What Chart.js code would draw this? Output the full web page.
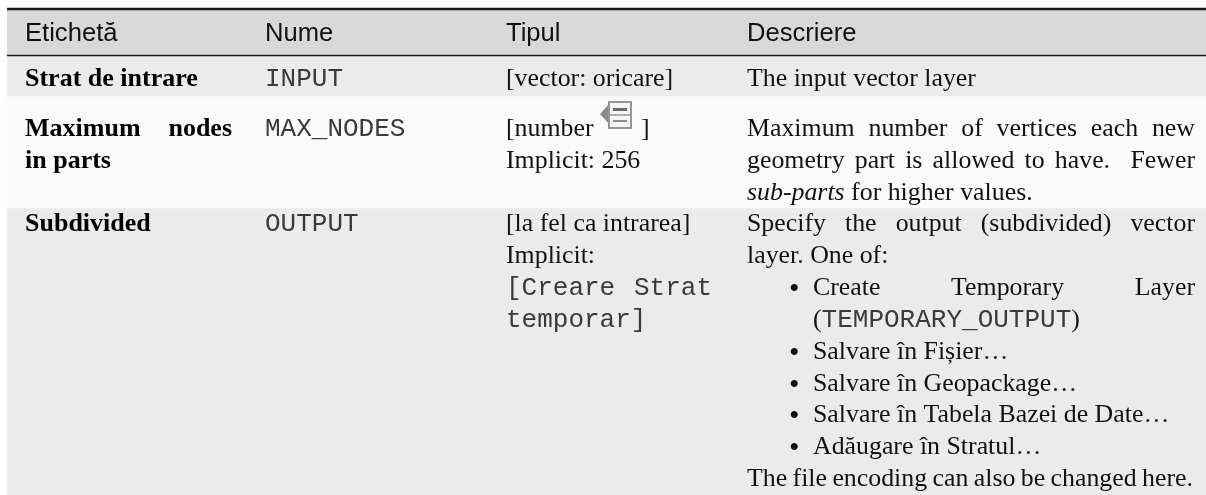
<!DOCTYPE html>
<html>
<head>
<meta charset="utf-8">
<style>
  html, body { margin: 0; padding: 0; background: #fff; }
  canvas { display: block; filter: blur(0.35px); }
</style>
<script src="https://cdn.jsdelivr.net/npm/chart.js@4"></script>
</head>
<body>
<canvas id="myChart" width="1206" height="495"></canvas>
<script>
// bands of the table, top to bottom, heights
var bandNames = ["rule top", "Antet", "rule head", "Strat de intrare", "Maximum nodes in parts", "Subdivided"];
var bandHeights = [2, 44.5, 1.5, 40, 112, 287];
var bandColors = ["#1a1a1a", "#d9d9d9", "#111111", "#ebebeb", "#fafafa", "#ebebeb"];

var headers = ["Etichetă", "Nume", "Tipul", "Descriere"];

// cell text, one entry per printed line. *x* italic, `x` mono, ** bold, > justified
var labelCol = [["**Strat de intrare"], [">**Maximum nodes", "**in parts"], ["**Subdivided"]];
var nameCol = [["`INPUT"], ["`MAX_NODES"], ["`OUTPUT"]];
var typeCol = [
  ["[vector: oricare]"],
  ["[number", "Implicit: 256"],
  ["[la fel ca intrarea]", "Implicit:", ">`[Creare Strat", "`temporar]"]
];
var descCol = [
  ["The input vector layer"],
  [">Maximum number of vertices each new", ">geometry part is allowed to have.  Fewer", "*sub-parts* for higher values."],
  [">Specify the output (subdivided) vector", "layer. One of:"]
];
var bulletLines = [
  [">Create Temporary Layer", "(`TEMPORARY_OUTPUT`)"],
  ["Salvare în Fișier…"],
  ["Salvare în Geopackage…"],
  ["Salvare în Tabela Bazei de Date…"],
  ["Adăugare în Stratul…"]
];
var descTail = ">The file encoding can also be changed here.";

var SERIF = '"Liberation Serif"', SANS = '"Liberation Sans"', MONO = '"Liberation Mono"';
var SIZE = 25.85, BOLD_SIZE = 26, HEAD_SIZE = 25.6, MONO_SIZE = 26, LINE = 31.9;
var TEXT = "#111111", MONO_TEXT = "#3a3a3a";
var colX = [25, 265, 506, 747];
var colRight = [232, 495, 712, 1195];
var rowBase = [78, 128, 223]; // first baseline of each row, in y axis units

function parseRuns(str) {
  var runs = [], parts = str.split(/(\*[^*]+\*|`[^`]+`)/);
  parts.forEach(function (p) {
    if (!p) return;
    if (p[0] == "*") runs.push({ t: p.slice(1, -1), f: "italic " + SIZE + "px " + SERIF, c: TEXT });
    else if (p[0] == "`") runs.push({ t: p.slice(1, -1), f: MONO_SIZE + "px " + MONO, c: MONO_TEXT });
    else runs.push({ t: p, f: SIZE + "px " + SERIF, c: TEXT });
  });
  return runs;
}

function drawLine(ctx, line, x, y, right) {
  var justify = false, bold = false, mono = false;
  if (line[0] == ">") { justify = true; line = line.slice(1); }
  if (line.slice(0, 2) == "**") { bold = true; line = line.slice(2); }
  if (line[0] == "`" && line.indexOf("`", 1) < 0) { mono = true; line = line.slice(1); }
  if (bold || mono) {
    ctx.font = bold ? "bold " + BOLD_SIZE + "px " + SERIF : MONO_SIZE + "px " + MONO;
    ctx.fillStyle = mono ? MONO_TEXT : "#000000";
    if (justify) return drawJustified(ctx, line, x, y, right);
    ctx.fillText(line, x, y);
    return;
  }
  if (justify) {
    ctx.font = SIZE + "px " + SERIF;
    ctx.fillStyle = TEXT;
    return drawJustified(ctx, line, x, y, right);
  }
  parseRuns(line).forEach(function (r) {
    ctx.font = r.f;
    ctx.fillStyle = r.c;
    ctx.fillText(r.t, x, y);
    x += ctx.measureText(r.t).width;
  });
}

function drawJustified(ctx, line, x, y, right) {
  // a double space keeps its wider sentence gap
  var words = line.split(" "), total = 0;
  words.forEach(function (w) { total += ctx.measureText(w).width; });
  var gap = (right - x - total) / (words.length - 1);
  words.forEach(function (w) {
    if (w) ctx.fillText(w, x, y);
    x += ctx.measureText(w).width + gap;
  });
}

// little "vector layer" icon after [number
function drawIcon(ctx, x, y) {
  ctx.fillStyle = "#8c8c8c";
  ctx.beginPath();
  ctx.moveTo(x, y + 13); ctx.lineTo(x + 9, y + 3); ctx.lineTo(x + 9, y + 23); ctx.closePath();
  ctx.fill();
  ctx.fillStyle = "#f6f6f6"; ctx.strokeStyle = "#969696"; ctx.lineWidth = 2;
  ctx.fillRect(x + 9, y + 1, 22, 26);
  ctx.strokeRect(x + 9, y + 1, 22, 26);
  ctx.fillStyle = "#6a6a6a"; ctx.fillRect(x + 13, y + 7, 14, 3);
  ctx.fillStyle = "#8a8a8a"; ctx.fillRect(x + 13, y + 19, 14, 2);
  ctx.strokeStyle = "#969696"; ctx.lineWidth = 1.5;
  ctx.beginPath(); ctx.moveTo(x + 9, y + 14); ctx.lineTo(x + 31, y + 14); ctx.stroke();
}

var tableText = {
  id: "tableText",
  afterDatasetsDraw: function (chart) {
    var ctx = chart.ctx, ys = chart.scales.y;
    ctx.save();
    ctx.textBaseline = "alphabetic";
    ctx.textAlign = "left";
    ctx.fillStyle = TEXT;

    ctx.font = HEAD_SIZE + "px " + SANS;
    headers.forEach(function (h, i) {
      ctx.fillText(h, colX[i], ys.getPixelForValue(33));
    });

    [labelCol, nameCol, typeCol, descCol].forEach(function (col, c) {
      col.forEach(function (lines, r) {
        lines.forEach(function (line, k) {
          drawLine(ctx, line, colX[c], ys.getPixelForValue(rowBase[r] + k * LINE), colRight[c]);
        });
      });
    });

    // closing bracket and icon on the [number line
    var numY = ys.getPixelForValue(rowBase[1]);
    ctx.fillStyle = TEXT;
    ctx.font = SIZE + "px " + SERIF;
    ctx.fillText("]", 641, numY);
    drawIcon(ctx, 600, 101);

    // bullet list of the last row
    var k = 2;
    bulletLines.forEach(function (item) {
      item.forEach(function (line, j) {
        var y = ys.getPixelForValue(rowBase[2] + k * LINE);
        if (j == 0) {
          ctx.fillStyle = TEXT;
          ctx.font = "30px " + SERIF;
          ctx.fillText("•", 789, y + 3);
        }
        drawLine(ctx, line, 813, y, 1195);
        k++;
      });
    });
    drawLine(ctx, descTail, colX[3], ys.getPixelForValue(rowBase[2] + k * LINE), 1193);
    ctx.restore();
  }
};

new Chart("myChart", {
  type: "bar",
  data: {
    labels: ["tabel"],
    datasets: bandNames.map(function (name, i) {
      return {
        label: name,
        data: [bandHeights[i]],
        backgroundColor: bandColors[i],
        borderWidth: 0,
        categoryPercentage: 1,
        barPercentage: 1
      };
    })
  },
  options: {
    responsive: false,
    animation: false,
    layout: { padding: { left: 7 } },
    plugins: { legend: { display: false }, title: { display: false }, tooltip: { enabled: false } },
    scales: {
      x: { display: false, stacked: true, grid: { display: false } },
      y: { display: false, stacked: true, reverse: true, min: -8, max: 487, grid: { display: false } }
    }
  },
  plugins: [tableText]
});
</script>
</body>
</html>
